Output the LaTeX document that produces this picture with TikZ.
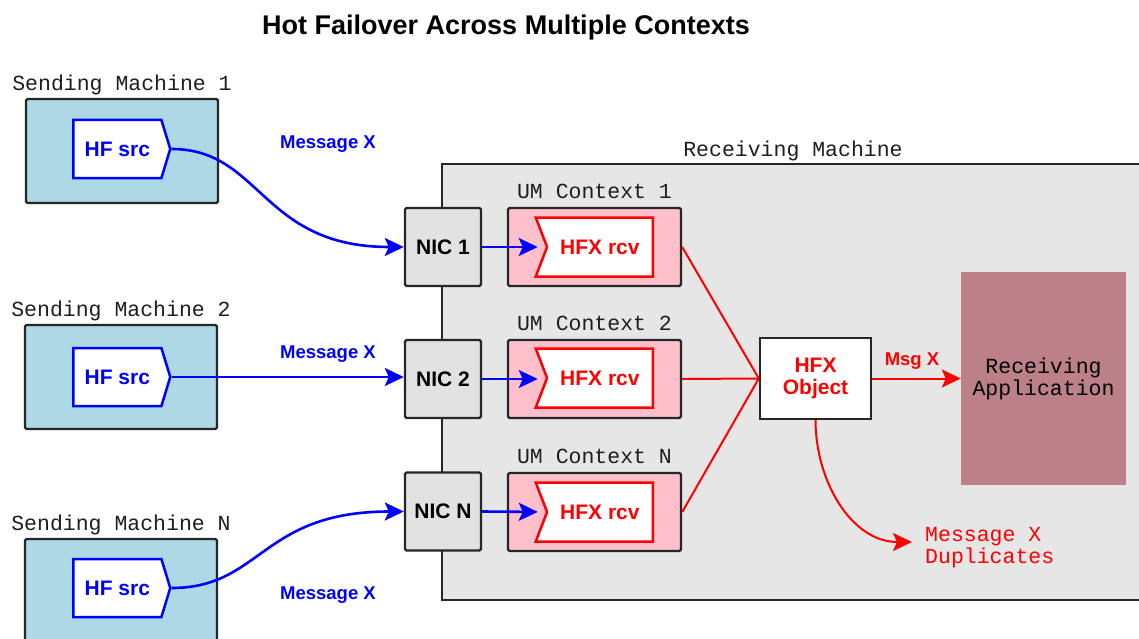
\documentclass[tikz,border=0pt]{standalone}
\usepackage{fontspec}
\setmainfont{Liberation Sans}
\newfontfamily\monofont{Liberation Mono}
\usetikzlibrary{arrows.meta,positioning,shapes.symbols}
\definecolor{machblue}{HTML}{ADD8E6}
\definecolor{rcvgray}{HTML}{E6E6E6}
\definecolor{nicgray}{HTML}{E2E2E2}
\definecolor{ctxpink}{HTML}{FFC0CB}
\definecolor{appmauve}{HTML}{BC8088}
\definecolor{edgegray}{HTML}{262626}
\definecolor{labelgray}{HTML}{1E1E1E}

\begin{document}
\begin{tikzpicture}[x=1pt,y=1pt,
  boxframe/.style={draw=edgegray,line width=2.4pt,rounded corners=1.5pt,inner sep=0pt},
  machine/.style={boxframe,fill=machblue,minimum width=192pt,minimum height=104pt},
  nic/.style={boxframe,fill=nicgray,minimum width=76pt,minimum height=78pt,font=\bfseries\fontsize{21}{22}\selectfont},
  umctx/.style={boxframe,fill=ctxpink,minimum width=173pt,minimum height=78pt},
  hfsrc/.style={signal,signal to=east,signal pointer angle=146,draw=blue,line width=2.5pt,fill=white,text=blue,minimum width=97pt,minimum height=58pt,inner sep=0pt,font=\bfseries\fontsize{21}{22}\selectfont},
  hfxrcv/.style={signal,signal from=west,signal to=nowhere,signal pointer angle=138,draw=red,line width=2.5pt,fill=white,text=red,minimum width=117pt,minimum height=59pt,inner sep=0pt,font=\bfseries\fontsize{21}{22}\selectfont},
  boxlabel/.style={font=\monofont\fontsize{21.5}{22}\selectfont,text=labelgray,inner sep=0pt,text depth=0pt},
  msg/.style={font=\bfseries\fontsize{18.5}{20}\selectfont,text=blue},
  bluearrow/.style={draw=blue,line width=2.6pt,-{Stealth[length=19pt,width=18pt,inset=4pt]}},
  redline/.style={draw=red,line width=2pt},
  redarrow/.style={redline,-{Stealth[length=19pt,width=18pt,inset=4pt]}}]
  \clip (0,0) rectangle (1139,-639);
  \node[font=\bfseries\fontsize{27}{28}\selectfont,anchor=base] (title) at (506,-35) {Hot Failover Across Multiple Contexts};

  \node[boxframe,rounded corners=0pt,fill=rcvgray,minimum width=702pt,minimum height=436pt] (rcvm) at (793,-382) {};
  \node[boxlabel,above=6.5pt of rcvm] (rcvmlbl) {Receiving Machine};

  \node[machine] (sm1) at (122,-151) {};
  \node[machine] (sm2) at (121,-377) {};
  \node[machine] (smN) at (121,-591) {};
  \node[boxlabel,above=7.5pt of sm1] (sm1lbl) {Sending Machine 1};
  \node[boxlabel,above=7.5pt of sm2] (sm2lbl) {Sending Machine 2};
  \node[boxlabel,above=7.5pt of smN] (smNlbl) {Sending Machine N};
  \node[hfsrc,anchor=west] (src1) at (72,-149) {HF src};
  \node[hfsrc,anchor=west] (src2) at (72,-377) {HF src};
  \node[hfsrc,anchor=west] (srcN) at (72,-588) {HF src};

  \node[nic] (nic1) at (443,-247) {NIC 1};
  \node[nic] (nic2) at (443,-379) {NIC 2};
  \node[nic] (nicN) at (443,-511.5) {NIC N};

  \node[umctx] (ctx1) at (594.5,-247) {};
  \node[umctx] (ctx2) at (594.5,-379) {};
  \node[umctx] (ctxN) at (594.5,-512) {};
  \node[boxlabel,above=8pt of ctx1] (ctx1lbl) {UM Context 1};
  \node[boxlabel,above=8pt of ctx2] (ctx2lbl) {UM Context 2};
  \node[boxlabel,above=8pt of ctxN] (ctxNlbl) {UM Context N};
  \node[hfxrcv,anchor=east] (rcv1) at (654,-247) {HFX rcv};
  \node[hfxrcv,anchor=east] (rcv2) at (654,-378) {HFX rcv};
  \node[hfxrcv,anchor=east] (rcvN) at (654,-512) {HFX rcv};

  \node[boxframe,rounded corners=0pt,fill=white,minimum width=111pt,minimum height=81pt,align=center,text=red,font=\bfseries\fontsize{21}{22}\selectfont] (obj) at (815.5,-378.5) {HFX\\Object};
  \node[fill=appmauve,minimum width=165pt,minimum height=213pt,align=center,font=\monofont\fontsize{21.5}{22}\selectfont] (app) at (1043.5,-378.5) {Receiving\\Application};

  \node[msg,anchor=base] (msg1) at (328,-149) {Message X};
  \node[msg,anchor=base] (msg2) at (328,-358) {Message X};
  \node[msg,anchor=base] (msgN) at (328,-599) {Message X};
  \node[msg,text=red,anchor=base] (msgx) at (912,-365) {Msg X};
  \coordinate (dup) at (912,-542);
  \node[font=\monofont\fontsize{21.5}{22}\selectfont,text=red,align=left,inner sep=0pt,anchor=west] (duptxt) at (925,-547.5) {Message X\\Duplicates};

  \draw[bluearrow] (src1.east) .. controls +(90,0) and +(-143,0) .. (nic1.west);
  \draw[bluearrow] (src2.east) -- (src2.east -| nic2.west);
  \draw[bluearrow] (srcN.east) .. controls +(90,0) and +(-143,0) .. (nicN.west);
  \draw[bluearrow,shorten >=8pt] (nic1.east) -- (rcv1.west);
  \draw[bluearrow,shorten >=8pt] (nic2.east) -- (nic2.east -| rcv2.west);
  \draw[bluearrow,shorten >=8pt] (nicN.east) -- (rcvN.west);
  \draw[redline] (ctx1.east) -- (obj.west);
  \draw[redline] (ctx2.east) -- (obj.west);
  \draw[redline] (ctxN.east) -- (obj.west);
  \draw[redarrow] (obj.east) -- (app.west);
  \draw[redarrow] (obj.south) to[out=-90,in=180] (dup);
\end{tikzpicture}
\end{document}
